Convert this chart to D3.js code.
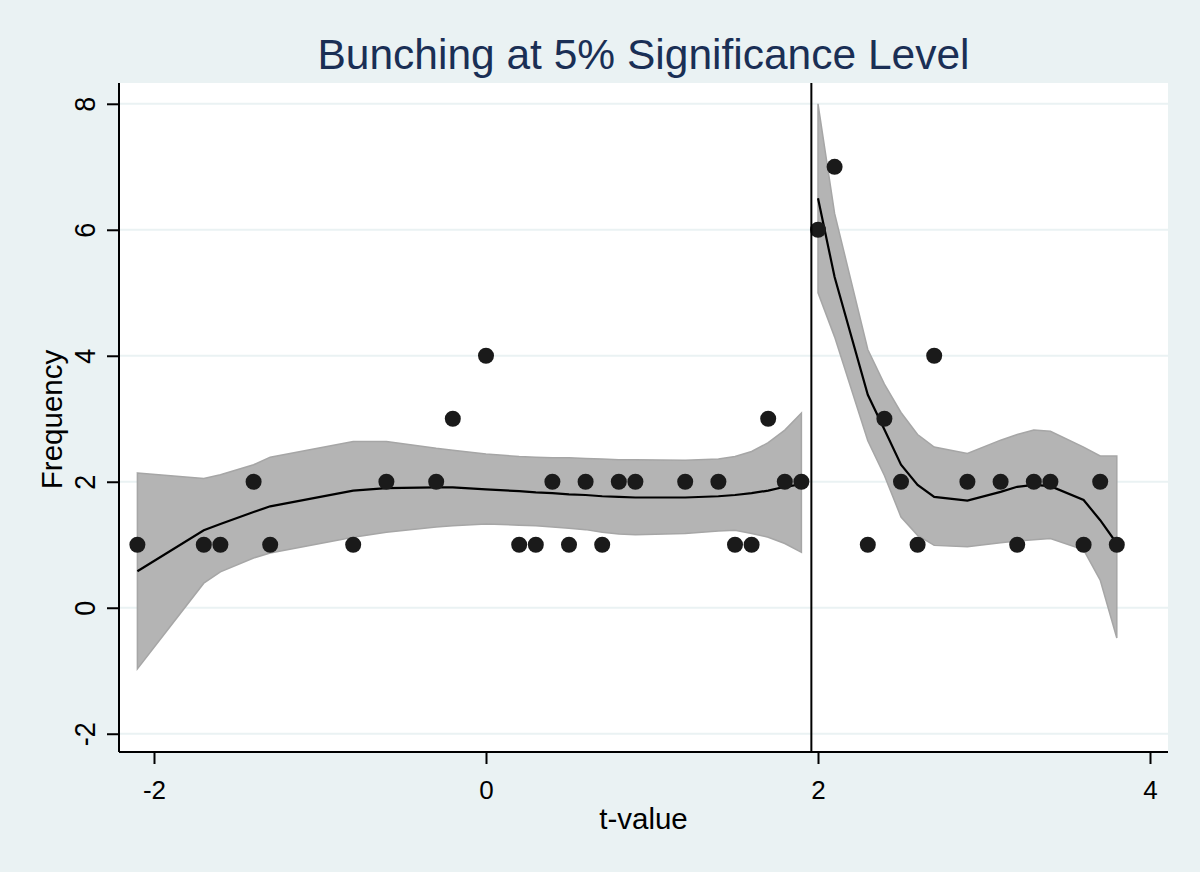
<!DOCTYPE html>
<html>
<head>
<meta charset="utf-8">
<script src="https://cdn.jsdelivr.net/npm/d3@7"></script>
<style>
  body { margin: 0; background: #EAF2F3; }
  svg { display: block; font-family: "Liberation Sans", Arial, sans-serif; }
</style>
</head>
<body>
<svg id="chart" width="1200" height="872"></svg>
<script>
// observed frequencies by t-value
var tLeft = [-2.1, -1.7, -1.6, -1.4, -1.3, -0.8, -0.6, -0.3, -0.2, 0, 0.2, 0.3, 0.4, 0.5, 0.6, 0.7, 0.8, 0.9, 1.2, 1.4, 1.5, 1.6, 1.7, 1.8, 1.9];
var freqLeft = [1, 1, 1, 2, 1, 1, 2, 2, 3, 4, 1, 1, 2, 1, 2, 1, 2, 2, 2, 2, 1, 1, 3, 2, 2];
var tRight = [2.0, 2.1, 2.3, 2.4, 2.5, 2.6, 2.7, 2.9, 3.1, 3.2, 3.3, 3.4, 3.6, 3.7, 3.8];
var freqRight = [6, 7, 1, 3, 2, 1, 4, 2, 2, 1, 2, 2, 1, 2, 1];

// local polynomial fit and 95% CI
var fitLeft = [0.58, 1.23, 1.33, 1.52, 1.61, 1.86, 1.90, 1.91, 1.91, 1.88, 1.85, 1.83, 1.82, 1.80, 1.79, 1.77, 1.76, 1.75, 1.75, 1.77, 1.79, 1.82, 1.86, 1.92, 1.96];
var loLeft = [-0.97, 0.39, 0.57, 0.79, 0.87, 1.12, 1.20, 1.28, 1.30, 1.33, 1.31, 1.30, 1.28, 1.26, 1.24, 1.20, 1.17, 1.16, 1.18, 1.22, 1.23, 1.18, 1.12, 1.02, 0.88];
var hiLeft = [2.14, 2.05, 2.11, 2.27, 2.39, 2.64, 2.64, 2.53, 2.50, 2.44, 2.40, 2.39, 2.38, 2.38, 2.37, 2.36, 2.35, 2.35, 2.34, 2.36, 2.40, 2.48, 2.62, 2.82, 3.09];
var fitRight = [6.5, 5.25, 3.38, 2.83, 2.27, 1.95, 1.76, 1.70, 1.84, 1.92, 1.95, 1.93, 1.71, 1.39, 1.02];
var loRight = [5.0, 4.3, 2.65, 2.1, 1.44, 1.15, 0.99, 0.97, 1.03, 1.06, 1.08, 1.10, 0.92, 0.44, -0.48];
var hiRight = [8.0, 6.26, 4.1, 3.55, 3.1, 2.75, 2.55, 2.45, 2.66, 2.75, 2.82, 2.80, 2.55, 2.41, 2.41];

var cutoff = 1.96;
var xTicks = [-2, 0, 2, 4];
var yTicks = [-2, 0, 2, 4, 6, 8];

var svg = d3.select("#chart");
var plotL = 119, plotR = 1168, plotT = 83, plotB = 752;

var x = d3.scaleLinear().domain([-2.2108, 4.1084]).range([plotL, plotR]);
var y = d3.scaleLinear().domain([-2.29, 8.33]).range([plotB, plotT]);

svg.append("rect").attr("width", 1200).attr("height", 872).attr("fill", "#EAF2F3");
svg.append("rect")
    .attr("x", plotL).attr("y", plotT)
    .attr("width", plotR - plotL).attr("height", plotB - plotT)
    .attr("fill", "#fff");

// gridlines
svg.append("g").selectAll("line")
    .data(yTicks)
    .enter().append("line")
    .attr("x1", plotL).attr("x2", plotR)
    .attr("y1", function(d) { return y(d); })
    .attr("y2", function(d) { return y(d); })
    .attr("stroke", "#EAF2F3").attr("stroke-width", 2);

function drawSide(ts, lo, hi, fit) {
    var rows = ts.map(function(t, i) { return { t: t, lo: lo[i], hi: hi[i], fit: fit[i] }; });
    var band = d3.area()
        .x(function(d) { return x(d.t); })
        .y0(function(d) { return y(d.lo); })
        .y1(function(d) { return y(d.hi); });
    svg.append("path").datum(rows)
        .attr("d", band)
        .attr("fill", "#B4B4B4")
        .attr("stroke", "#A6A6A6").attr("stroke-width", 1.5);
    var line = d3.line()
        .x(function(d) { return x(d.t); })
        .y(function(d) { return y(d.fit); });
    svg.append("path").datum(rows)
        .attr("d", line)
        .attr("fill", "none")
        .attr("stroke", "#000").attr("stroke-width", 2.2);
}
drawSide(tLeft, loLeft, hiLeft, fitLeft);
drawSide(tRight, loRight, hiRight, fitRight);

function drawPoints(ts, fs) {
    svg.append("g").selectAll("circle")
        .data(ts)
        .enter().append("circle")
        .attr("cx", function(d) { return x(d); })
        .attr("cy", function(d, i) { return y(fs[i]); })
        .attr("r", 8)
        .attr("fill", "#1A1A1A");
}
drawPoints(tLeft, freqLeft);
drawPoints(tRight, freqRight);

// cutoff line
svg.append("line")
    .attr("x1", x(cutoff)).attr("x2", x(cutoff))
    .attr("y1", plotT).attr("y2", plotB)
    .attr("stroke", "#000").attr("stroke-width", 2);

// axes
var fmt = function(d) { return String(d); };
var xAxis = svg.append("g")
    .attr("transform", "translate(0," + plotB + ")")
    .call(d3.axisBottom(x).tickValues(xTicks).tickSize(12).tickPadding(17).tickFormat(fmt));
var yAxis = svg.append("g")
    .attr("transform", "translate(" + plotL + ",0)")
    .call(d3.axisLeft(y).tickValues(yTicks).tickSize(12).tickFormat(fmt));

[xAxis, yAxis].forEach(function(g) {
    g.attr("font-size", null).attr("font-family", null);
    g.select(".domain").attr("stroke", "#000").attr("stroke-width", 2);
    g.selectAll(".tick line").attr("stroke", "#000").attr("stroke-width", 2);
    g.selectAll("text").attr("fill", "#000");
});
xAxis.selectAll("text").style("font-size", "26px");
yAxis.selectAll("text").style("font-size", "27px");
xAxis.select(".domain").attr("d", "M" + plotL + ",0H" + plotR);
yAxis.select(".domain").attr("d", "M0," + plotT + "V" + plotB);

// rotated y labels, a bit taller like the original export
yAxis.selectAll(".tick text")
    .attr("x", 0).attr("dy", 0)
    .attr("text-anchor", "middle")
    .attr("transform", "translate(-24,0) rotate(-90) scale(1,1.12)");

// titles
svg.append("text")
    .attr("x", (plotL + plotR) / 2).attr("y", 69)
    .attr("text-anchor", "middle")
    .attr("fill", "#1A2F55")
    .style("font-size", "42.5px")
    .text("Bunching at 5% Significance Level");

svg.append("text")
    .attr("x", (plotL + plotR) / 2).attr("y", 829)
    .attr("text-anchor", "middle")
    .attr("fill", "#000")
    .style("font-size", "29.5px")
    .text("t-value");

svg.append("text")
    .attr("transform", "translate(62," + ((plotT + plotB) / 2 + 2) + ") rotate(-90)")
    .attr("text-anchor", "middle")
    .attr("fill", "#000")
    .style("font-size", "29.5px")
    .text("Frequency");
</script>
</body>
</html>
